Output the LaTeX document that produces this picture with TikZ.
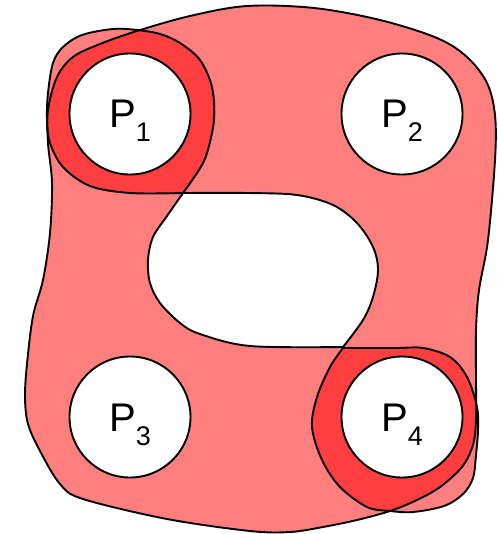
\documentclass[tikz,border=0pt]{standalone}
\usepackage{fontspec}
\setmainfont{Liberation Sans}
\newcommand{\psub}[1]{\raisebox{-14pt}{\fontsize{27}{27}\selectfont #1}}
\begin{document}
\begin{tikzpicture}[x=1pt,y=-1pt,
    region/.style={fill=red, fill opacity=0.5},
    outline/.style={draw=black, line width=1.9pt},
    post/.style={circle, draw=black, line width=1.9pt, fill=white,
        minimum size=121pt, inner sep=0pt,
        font=\fontsize{40}{40}\selectfont, text height=28pt, text depth=0pt}]
    \useasboundingbox (0,0) rectangle (497,534);

    % Shapes (kept for filling first, outlining after)
    \path[save path=\blobpath]
        plot[smooth cycle, tension=0.55] coordinates {
            (247,6) (314,8) (380,20) (437,38) (467,57) (487,83) (495,115)
            (495,160) (488,240) (479,290) (476,330) (476,380) (476,420)
            (473,445) (462,467) (440,487) (417,500) (390,511) (357,520)
            (323,527) (290,532) (250,531) (167,519) (83,499) (60,484)
            (40,451) (28,424) (25,397) (27,364) (33,316) (43,280) (50,233)
            (52,183) (48,143) (48,110) (57,77) (73,57) (100,44) (137,31)
            (190,16)}
        plot[smooth, tension=0.55] coordinates {
            (183,193) (247,193) (297,195) (333,205) (357,223) (373,247)
            (378,270) (373,297) (363,320) (343,347)}
        -- plot[smooth, tension=0.55] coordinates {
            (343,347) (250,346) (200,334) (180,323) (160,303) (150,283)
            (148,260) (153,237) (167,216) (183,193)}
        -- cycle;
    \path[save path=\ringone]
        plot[smooth, tension=0.55] coordinates {
            (183,193) (199,170) (207,153) (214,120) (212,87) (200,60)
            (180,43) (160,34) (137,30) (113,29) (82,35) (63,47) (53,63)
            (48,93) (47,120) (50,143) (63,167) (90,186) (130,193) (183,193)}
        -- cycle;
    \path[save path=\ringfour]
        plot[smooth, tension=0.55] coordinates {
            (343,348) (396,348) (423,348) (450,357) (467,377) (477,407)
            (478,430) (476,455) (473,478) (463,494) (444,506) (413,512)
            (390,511) (367,507) (340,487) (322,460) (312,427) (317,397)
            (330,367) (343,348)}
        -- cycle;

    % Fills
    \fill[region, even odd rule, use path=\blobpath];
    \fill[region, use path=\ringone];
    \fill[region, use path=\ringfour];

    % Outlines
    \draw[outline, use path=\blobpath];
    \draw[outline, use path=\ringone];
    \draw[outline, use path=\ringfour];

    % Posts
    \node[post] (p1) at (130,114) {P\psub{1}};
    \node[post] (p2) at (402,114) {P\psub{2}};
    \node[post] (p3) at (130,417) {P\psub{3}};
    \node[post] (p4) at (402,417) {P\psub{4}};
\end{tikzpicture}
\end{document}
